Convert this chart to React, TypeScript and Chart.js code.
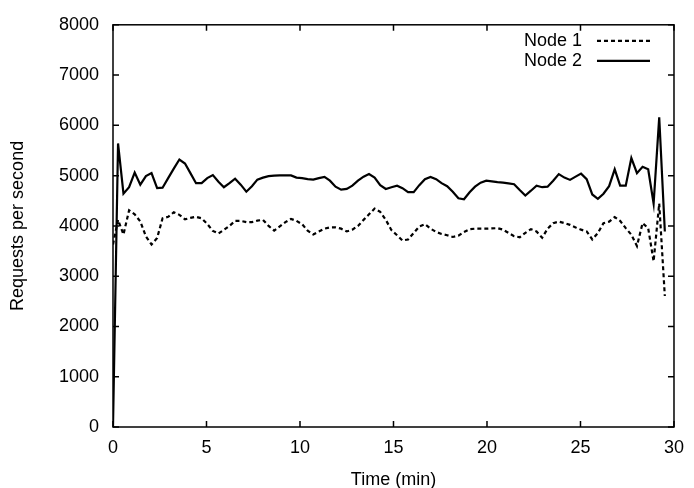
import React, { useEffect, useRef } from "react";
import { Chart, registerables } from "chart.js";

Chart.register(...registerables);

// Sample times (minutes)
const TIME_MIN = [
  0, 0.27, 0.56, 0.86, 1.16, 1.46, 1.76, 2.06, 2.36, 2.65,
  2.95, 3.25, 3.55, 3.85, 4.14, 4.44, 4.74, 5.04, 5.34, 5.64,
  5.93, 6.23, 6.53, 6.83, 7.13, 7.43, 7.72, 8.02, 8.32, 8.62,
  8.92, 9.22, 9.52, 9.81, 10.11, 10.41, 10.71, 11.01, 11.31, 11.6,
  11.9, 12.2, 12.5, 12.8, 13.1, 13.4, 13.69, 13.99, 14.29, 14.59,
  14.89, 15.19, 15.48, 15.78, 16.08, 16.38, 16.68, 16.98, 17.28, 17.57,
  17.87, 18.17, 18.47, 18.77, 19.07, 19.36, 19.66, 19.96, 20.26, 20.56,
  20.86, 21.15, 21.45, 21.75, 22.05, 22.35, 22.65, 22.95, 23.24, 23.54,
  23.84, 24.14, 24.44, 24.74, 25.03, 25.33, 25.63, 25.93, 26.23, 26.53,
  26.83, 27.12, 27.42, 27.72, 28.02, 28.32, 28.62, 28.91, 29.21, 29.51,
];

const NODE1 = [
  3630, 4120, 3830, 4310, 4230, 4090, 3790, 3630, 3760, 4150,
  4180, 4270, 4220, 4130, 4160, 4180, 4150, 4040, 3900, 3850,
  3920, 4000, 4100, 4100, 4075, 4075, 4105, 4120, 4000, 3905,
  3990, 4075, 4140, 4100, 4035, 3905, 3830, 3890, 3945, 3970,
  3970, 3945, 3890, 3925, 4000, 4120, 4230, 4345, 4280, 4120,
  3915, 3815, 3710, 3730, 3860, 3990, 4035, 3945, 3880, 3840,
  3815, 3780, 3805, 3880, 3935, 3945, 3945, 3945, 3950, 3955,
  3925, 3860, 3795, 3775, 3860, 3935, 3890, 3765, 3945, 4055,
  4085, 4055, 4020, 3970, 3925, 3890, 3730, 3860, 4055, 4085,
  4175, 4100, 3955, 3825, 3600, 4055, 3955, 3295, 4445, 2605,
];

const NODE2 = [
  0, 5640, 4640, 4770, 5060, 4820, 4990, 5050, 4750, 4760,
  4950, 5140, 5320, 5240, 5050, 4850, 4850, 4950, 5010, 4880,
  4770, 4850, 4940, 4820, 4680, 4790, 4920, 4960, 4990, 5000,
  5005, 5005, 5005, 4960, 4950, 4930, 4920, 4950, 4975, 4900,
  4780, 4720, 4735, 4800, 4900, 4980, 5030, 4960, 4810, 4735,
  4770, 4800, 4750, 4670, 4670, 4810, 4930, 4975, 4930, 4850,
  4790, 4680, 4550, 4530, 4670, 4780, 4860, 4900, 4885, 4870,
  4860, 4845, 4830, 4715, 4605, 4700, 4800, 4770, 4780, 4900,
  5030, 4960, 4915, 4980, 5040, 4930, 4625, 4540, 4640, 4790,
  5125, 4800, 4800, 5350, 5050, 5175, 5125, 4445, 6160, 3890,
];

const SERIES_LABELS = ["Node 1", "Node 2"];
const X_TITLE = "Time (min)";
const Y_TITLE = "Requests per second";

const FONT = "'Liberation Sans', Arial, Helvetica, sans-serif";

const framePlugin = {
  id: "gnuFrame",
  afterDatasetsDraw(chart: any) {
    const { ctx, chartArea, scales } = chart;
    const { left, right, top, bottom } = chartArea;
    const xs = scales.x;
    const ys = scales.y;
    ctx.save();
    ctx.strokeStyle = "#000";
    ctx.lineWidth = 1.5;
    ctx.setLineDash([]);
    ctx.strokeRect(left, top, right - left, bottom - top);
    const tl = 6;
    ctx.beginPath();
    xs.ticks.forEach((t: any) => {
      const px = xs.getPixelForValue(t.value);
      ctx.moveTo(px, bottom);
      ctx.lineTo(px, bottom - tl);
      ctx.moveTo(px, top);
      ctx.lineTo(px, top + tl);
    });
    ys.ticks.forEach((t: any) => {
      const py = ys.getPixelForValue(t.value);
      ctx.moveTo(left, py);
      ctx.lineTo(left + tl, py);
      ctx.moveTo(right, py);
      ctx.lineTo(right - tl, py);
    });
    ctx.stroke();

    // gnuplot-style key: text right-aligned, sample line on its right
    const lineEnd = right - 24;
    const lineStart = lineEnd - 53;
    const textRight = lineStart - 15;
    ctx.font = `18px ${FONT}`;
    ctx.fillStyle = "#000";
    ctx.textAlign = "right";
    ctx.textBaseline = "middle";
    chart.data.datasets.forEach((ds: any, i: number) => {
      const yy = top + 16 + 20 * i;
      ctx.fillText(ds.label, textRight, yy);
      ctx.beginPath();
      ctx.setLineDash(ds.borderDash || []);
      ctx.lineWidth = ds.borderWidth;
      ctx.strokeStyle = ds.borderColor;
      ctx.moveTo(lineStart, yy);
      ctx.lineTo(lineEnd, yy);
      ctx.stroke();
    });
    ctx.restore();
  },
};

export default function App() {
  const ref = useRef<HTMLCanvasElement | null>(null);

  useEffect(() => {
    if (!ref.current) return;
    const d1 = TIME_MIN.map((t, i) => ({ x: t, y: NODE1[i] }));
    const d2 = TIME_MIN.map((t, i) => ({ x: t, y: NODE2[i] }));
    const chart = new Chart(ref.current, {
      type: "line",
      data: {
        datasets: [
          {
            label: SERIES_LABELS[0],
            data: d1,
            borderColor: "#000",
            borderWidth: 2.2,
            borderDash: [4, 3],
            pointRadius: 0,
            tension: 0,
            fill: false,
          },
          {
            label: SERIES_LABELS[1],
            data: d2,
            borderColor: "#000",
            borderWidth: 2.2,
            pointRadius: 0,
            tension: 0,
            fill: false,
          },
        ],
      },
      options: {
        responsive: false,
        animation: false,
        devicePixelRatio: 1,
        layout: { padding: { left: 0, top: 15, right: 14, bottom: 0 } },
        plugins: {
          legend: { display: false },
          tooltip: { enabled: false },
        },
        scales: {
          x: {
            type: "linear",
            min: 0,
            max: 30,
            ticks: {
              stepSize: 5,
              color: "#000",
              padding: 10,
              font: { family: FONT, size: 18 },
              maxRotation: 0,
              callback: (v: any) => String(v),
            },
            grid: { display: false, drawTicks: false },
            border: { display: false },
            title: {
              display: true,
              text: X_TITLE,
              color: "#000",
              font: { family: FONT, size: 18, lineHeight: 0.8333 },
              padding: { top: 0, bottom: 0 },
            },
            afterFit: (s: any) => {
              s.height = 61;
            },
          },
          y: {
            type: "linear",
            min: 0,
            max: 8000,
            ticks: {
              stepSize: 1000,
              color: "#000",
              padding: 14,
              font: { family: FONT, size: 18 },
              callback: (v: any) => String(v),
            },
            grid: { display: false, drawTicks: false },
            border: { display: false },
            title: {
              display: true,
              text: Y_TITLE,
              color: "#000",
              font: { family: FONT, size: 18, lineHeight: 1.2 },
              padding: { top: 7, bottom: 0 },
            },
            afterFit: (s: any) => {
              s.width = 113;
            },
          },
        },
      },
      plugins: [framePlugin],
    });
    return () => chart.destroy();
  }, []);

  return (
    <div style={{ position: "fixed", left: 0, top: 0, width: 694, height: 488, background: "#fff" }}>
      <canvas ref={ref} width={694} height={488} style={{ width: 694, height: 488 }} />
    </div>
  );
}
